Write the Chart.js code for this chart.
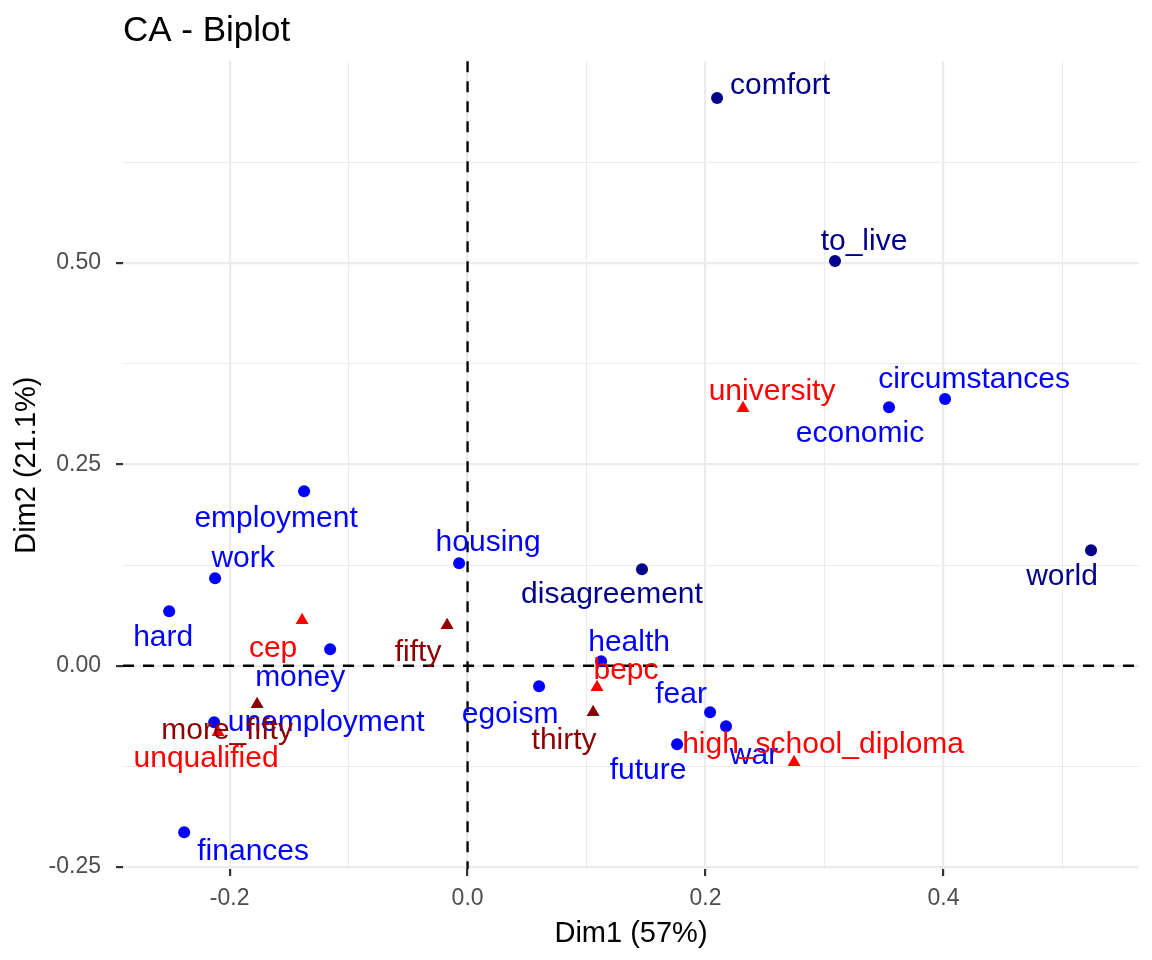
<!DOCTYPE html>
<html>
<head>
<meta charset="utf-8">
<title>CA - Biplot</title>
<script src="https://cdn.jsdelivr.net/npm/chart.js@4.4.1/dist/chart.umd.min.js"></script>
<style>
    html, body { margin: 0; padding: 0; background: #fff; }
    #wrap { width: 1152px; height: 960px; }
</style>
</head>
<body>
<div id="wrap"><canvas id="biplot" width="1152" height="960"></canvas></div>
<script>
// rows (words), two colour groups
const navyNames = ['comfort', 'to_live', 'world', 'disagreement'];
const navyDim1 = [0.2097, 0.3088, 0.5240, 0.1466];
const navyDim2 = [0.7050, 0.5025, 0.1435, 0.1199];

const blueNames = ['circumstances', 'economic', 'employment', 'work', 'hard', 'housing', 'money',
    'health', 'egoism', 'fear', 'war', 'future', 'unemployment', 'finances'];
const blueDim1 = [0.4013, 0.3542, -0.1374, -0.2122, -0.2508, -0.0071, -0.1155,
    0.1122, 0.0601, 0.2038, 0.2172, 0.1761, -0.2130, -0.2382];
const blueDim2 = [0.3311, 0.3211, 0.2168, 0.1087, 0.0677, 0.1273, 0.0205,
    0.0056, -0.0255, -0.0578, -0.0752, -0.0975, -0.0702, -0.2068];

// columns (education / age), two colour groups
const redNames = ['university', 'cep', 'bepc', 'high_school_diploma', 'unqualified'];
const redDim1 = [0.2315, -0.1391, 0.1088, 0.2744, -0.2097];
const redDim2 = [0.3199, 0.0565, -0.0267, -0.1199, -0.0826];

const darkredNames = ['fifty', 'more_fifty', 'thirty'];
const darkredDim1 = [-0.0172, -0.1769, 0.1055];
const darkredDim2 = [0.0503, -0.0479, -0.0578];

const xTicks = [-0.2, 0.0, 0.2, 0.4];
const yTicks = [-0.25, 0.00, 0.25, 0.50];

// label nudges in px (ggrepel placement), kept apart from the data
const labelNudge = {
    comfort: [63, -12], to_live: [29, -19], world: [-29, 27], disagreement: [-30, 26],
    circumstances: [29, -19], economic: [-29, 27], employment: [-28, 28], work: [28, -19],
    hard: [-6, 27], housing: [29, -20], money: [-30, 28], health: [28, -19],
    egoism: [-29, 28], fear: [-29, -18], war: [28, 29], future: [-29, 26],
    unemployment: [112, 0], finances: [69, 19],
    university: [29, -16], cep: [-29, 28], bepc: [29, -17], high_school_diploma: [29, -18],
    unqualified: [-12, 26], fifty: [-29, 27], more_fifty: [-30, 26], thirty: [-29, 28]
};

const FONT = '"Liberation Sans", Arial, Helvetica, sans-serif';

function toPoints(xs, ys) {
    return xs.map((x, i) => ({ x: x, y: ys[i] }));
}

function withMinor(major) {
    const step = major[1] - major[0];
    const out = [];
    major.forEach((v) => {
        out.push(v);
        out.push(v + step / 2);
    });
    out.unshift(major[0] - step / 2);
    return out;
}

function isMajor(list, v) {
    return list.some(t => Math.abs(t - v) < 1e-9);
}

// dashed reference lines at 0
const zeroLines = {
    id: 'zeroLines',
    beforeDatasetsDraw(chart) {
        const { ctx, chartArea, scales } = chart;
        const x0 = scales.x.getPixelForValue(0);
        const y0 = scales.y.getPixelForValue(0);
        ctx.save();
        ctx.strokeStyle = '#000';
        ctx.lineWidth = 2.3;
        ctx.setLineDash([11, 9]);
        ctx.beginPath();
        ctx.moveTo(chartArea.left, y0);
        ctx.lineTo(chartArea.right, y0);
        ctx.moveTo(x0, chartArea.top);
        ctx.lineTo(x0, chartArea.bottom);
        ctx.stroke();
        ctx.restore();
    }
};

// text labels next to each point
const pointLabels = {
    id: 'pointLabels',
    afterDatasetsDraw(chart) {
        const ctx = chart.ctx;
        ctx.save();
        ctx.font = '30px ' + FONT;
        ctx.textAlign = 'center';
        ctx.textBaseline = 'middle';
        chart.data.datasets.forEach((ds, di) => {
            const meta = chart.getDatasetMeta(di);
            ctx.fillStyle = ds.labelColor;
            meta.data.forEach((pt, i) => {
                const name = ds.names[i];
                const nudge = labelNudge[name] || [0, 0];
                ctx.fillText(name, pt.x + nudge[0], pt.y + nudge[1]);
            });
        });
        ctx.restore();
    }
};

const axisCommon = (majors, digits) => ({
    type: 'linear',
    afterBuildTicks: (scale) => {
        scale.ticks = withMinor(majors)
            .filter(v => v >= scale.min - 1e-9 && v <= scale.max + 1e-9)
            .map(v => ({ value: v }));
    },
    ticks: {
        autoSkip: false,
        color: '#4D4D4D',
        font: { family: FONT, size: 23 },
        callback: (value) => isMajor(majors, value) ? Number(value).toFixed(digits) : ''
    },
    grid: {
        color: '#EBEBEB',
        lineWidth: (c) => isMajor(majors, c.tick.value) ? 2.2 : 1.1,
        tickColor: (c) => isMajor(majors, c.tick.value) ? '#333333' : 'rgba(0,0,0,0)',
        tickLength: 7,
        tickWidth: 2.2
    },
    border: { display: false }
});

const xAxis = axisCommon(xTicks, 1);
xAxis.min = -0.2896;
xAxis.max = 0.5643;
xAxis.ticks.padding = 9;
xAxis.ticks.maxRotation = 0;
xAxis.title = { display: true, text: 'Dim1 (57%)', color: '#000', font: { family: FONT, size: 29 }, padding: { top: 4, bottom: 4 } };
xAxis.afterFit = (scale) => { scale.height = 86; };

const yAxis = axisCommon(yTicks, 2);
yAxis.min = -0.2524;
yAxis.max = 0.7506;
yAxis.ticks.padding = 15;
yAxis.title = { display: true, text: 'Dim2 (21.1%)', color: '#000', font: { family: FONT, size: 29 }, padding: { top: 4, bottom: 4 } };
yAxis.afterFit = (scale) => { scale.width = 117; };

const chart = new Chart(document.getElementById('biplot'), {
    type: 'scatter',
    data: {
        datasets: [
            {
                names: navyNames, labelColor: '#00008B',
                data: toPoints(navyDim1, navyDim2),
                pointStyle: 'circle', pointRadius: 6,
                backgroundColor: '#00008B', borderColor: '#00008B', pointBorderWidth: 0
            },
            {
                names: blueNames, labelColor: '#0000FF',
                data: toPoints(blueDim1, blueDim2),
                pointStyle: 'circle', pointRadius: 6,
                backgroundColor: '#0000FF', borderColor: '#0000FF', pointBorderWidth: 0
            },
            {
                names: redNames, labelColor: '#FF0000',
                data: toPoints(redDim1, redDim2),
                pointStyle: 'triangle', pointRadius: 7.5,
                backgroundColor: '#FF0000', borderColor: '#FF0000', pointBorderWidth: 0
            },
            {
                names: darkredNames, labelColor: '#8B0000',
                data: toPoints(darkredDim1, darkredDim2),
                pointStyle: 'triangle', pointRadius: 7.5,
                backgroundColor: '#8B0000', borderColor: '#8B0000', pointBorderWidth: 0
            }
        ]
    },
    options: {
        responsive: false,
        animation: false,
        events: [],
        layout: { padding: { left: 6, right: 13, top: 0, bottom: 5 } },
        plugins: {
            legend: { display: false },
            tooltip: { enabled: false },
            title: {
                display: true,
                text: 'CA - Biplot',
                align: 'start',
                fullSize: false,
                color: '#000',
                font: { family: FONT, size: 35, weight: 'normal' },
                padding: { top: 10, bottom: 9.3 }
            }
        },
        scales: { x: xAxis, y: yAxis }
    },
    plugins: [zeroLines, pointLabels]
});
</script>
</body>
</html>
